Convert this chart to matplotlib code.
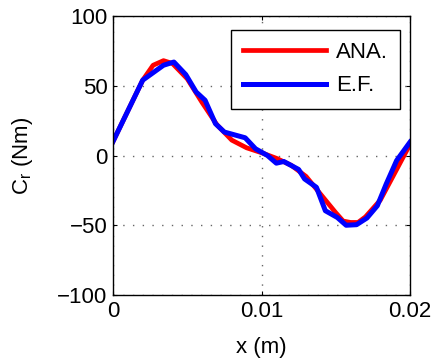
import numpy as np
import matplotlib
matplotlib.use("Agg")
import matplotlib.pyplot as plt

plt.rcParams['font.family'] = ['Liberation Sans', 'DejaVu Sans']

# analytical torque
x_ana = [0, 0.001, 0.002, 0.0027, 0.0034, 0.004, 0.005, 0.006, 0.007, 0.008,
         0.009, 0.010, 0.011, 0.012, 0.013, 0.014, 0.015, 0.0155, 0.016,
         0.0165, 0.017, 0.018, 0.019, 0.020]
c_ana = [10, 32, 54, 64.7, 68, 66, 55, 38, 22, 11,
         5.5, 2, -2, -7, -15, -28, -41, -47, -48,
         -48, -44, -32, -12, 8]

# finite elements
x_ef = [0, 0.002, 0.0034, 0.0041, 0.0049, 0.0056, 0.0062, 0.0069, 0.0075,
        0.0089, 0.0096, 0.0104, 0.0110, 0.0115, 0.0125, 0.0129, 0.0137,
        0.0143, 0.0151, 0.0157, 0.0164, 0.0171, 0.0178, 0.0184, 0.0191, 0.020]
c_ef = [10, 54, 64.7, 67, 58, 45.5, 39.6, 22.8, 16.8,
        12.7, 4.8, 0, -5.5, -4.3, -10, -16.8, -22.8,
        -39.6, -44.4, -50, -49.6, -44.8, -36, -20.4, -3.6, 9.6]

fig = plt.figure(figsize=(4.32, 3.63), dpi=100)
ax = fig.add_axes([113/432, 1-295/363, 297/432, 279/363])

ax.plot(x_ana, c_ana, color='red', lw=3.4, label='ANA.')
ax.plot(x_ef, c_ef, color='blue', lw=3.6, label='E.F.')

ax.set_xlim(0, 0.02)
ax.set_ylim(-100, 100)
ax.set_xticks([0, 0.01, 0.02])
ax.set_xticklabels(['0', '0.01', '0.02'])
ax.set_yticks([-100, -50, 0, 50, 100])
ax.set_yticklabels(['\u2212100', '\u221250', '0', '50', '100'])
ax.tick_params(direction='in', length=3, labelsize=16, top=True, right=True, pad=4)
ax.grid(True, linestyle=(0, (1, 6)), color='0.4', lw=1.0)
for s in ax.spines.values():
    s.set_linewidth(1.0)

ax.set_xlabel('x (m)', fontsize=16, labelpad=11)
ax.set_ylabel('C$_\\mathregular{r}$ (Nm)', fontsize=16, labelpad=16)

leg = ax.legend(loc='upper right', bbox_to_anchor=(0.966, 0.95), borderaxespad=0,
                fontsize=16, handlelength=3.7, handletextpad=0.45, fancybox=False,
                framealpha=1, edgecolor='black', borderpad=0.55, labelspacing=0.55)
leg.get_frame().set_linewidth(1.0)

fig.savefig('out.png', dpi=100)
